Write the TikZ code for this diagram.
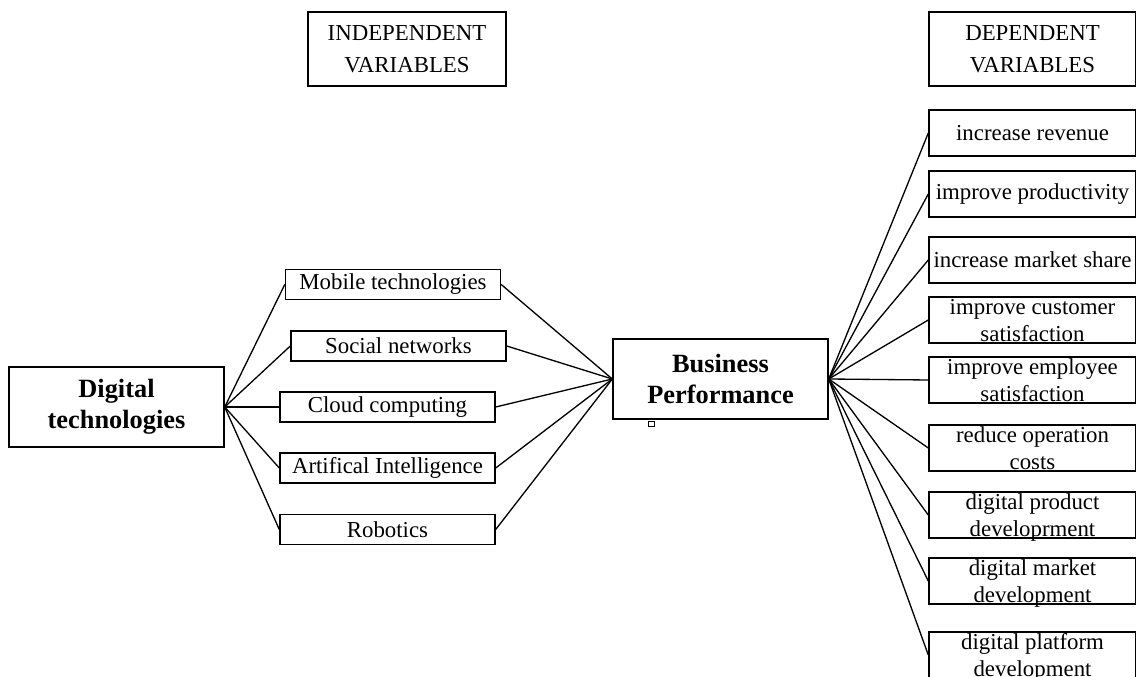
\documentclass[tikz,border=0pt]{standalone}
\usepackage{fontspec}
\setmainfont{Liberation Serif}

\tikzset{
  hdrbox/.style={draw, line width=0.8pt, align=center, inner sep=0pt,
    minimum height=1.48cm, font=\fontsize{13}{18}\selectfont},
  mainbox/.style={draw, line width=0.8pt, align=center, inner sep=0pt,
    minimum width=4.3cm, minimum height=1.6cm, font=\fontsize{15}{17.8}\selectfont\bfseries},
  indbox/.style={draw, line width=0.8pt, inner sep=0pt,
    minimum width=4.3cm, minimum height=0.6cm, font=\fontsize{13}{15}\selectfont},
  depbox/.style={draw, line width=0.8pt, inner sep=0pt, align=center,
    minimum width=4.14cm, minimum height=0.92cm, font=\fontsize{13}{15.3}\selectfont},
  depboxii/.style={depbox, text height=25.4pt, text depth=0.7pt},
  wire/.style={line width=0.75pt}
}

\begin{document}
\begin{tikzpicture}[x=0.2mm, y=-0.2mm]
				\useasboundingbox (0,0) rectangle (1136,677);
				% Headers:
				\node[hdrbox, minimum width=3.96cm] (hind) at (407, 49){INDEPENDENT\\VARIABLES};
				\node[hdrbox, minimum width=4.14cm] (hdep) at (1032.5, 49){DEPENDENT\\VARIABLES};
				% Main boxes:
				\node[mainbox] (dig) at (116.5, 407){Digital\\technologies};
				\node[mainbox] (bp) at (720.5, 379){Business\\Performance};
				\node[draw, line width=0.5pt, inner sep=0pt, minimum size=3pt] (dot) at (651.5, 424){};
				% Independent variables:
				\node[indbox] (mob) at (393, 284.5){Mobile technologies};
				\node[indbox] (soc) at (398.5, 346){Social networks};
				\node[indbox] (cld) at (387.5, 407){Cloud computing};
				\node[indbox] (ai) at (387.5, 468){Artifical Intelligence};
				\node[indbox] (rob) at (387.5, 529.5){Robotics};
				% Dependent variables:
				\node[depbox] (rev) at (1032.5, 133){increase revenue};
				\node[depbox] (prod) at (1032.5, 194){improve productivity};
				\node[depbox] (mkt) at (1032.5, 260){increase market share};
				\node[depboxii] (cust) at (1032.5, 320){improve customer\\satisfaction};
				\node[depboxii] (emp) at (1032.5, 380){improve employee\\satisfaction};
				\node[depboxii] (cost) at (1032.5, 448){reduce operation\\costs};
				\node[depboxii] (dprod) at (1032.5, 515){digital product\\developrment};
				\node[depboxii] (dmkt) at (1032.5, 581){digital market\\development};
				\node[depboxii] (dplat) at (1032.5, 655){digital platform\\development};
				% Wires:
				\foreach \n in {mob, soc, cld, ai, rob}{
					\draw[wire] (dig.east) -- (\n.west);
					\draw[wire] (\n.east) -- (bp.west);
				}
				\foreach \n in {rev, prod, mkt, cust, emp, cost, dprod, dmkt, dplat}
					\draw[wire] (bp.east) -- (\n.west);
			\end{tikzpicture}
\end{document}
